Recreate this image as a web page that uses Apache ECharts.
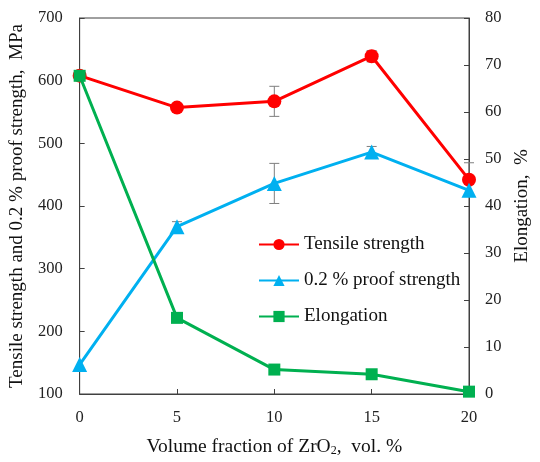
<!DOCTYPE html>
<html><head><meta charset="utf-8">
<script src="https://cdn.jsdelivr.net/npm/echarts@6/dist/echarts.min.js"></script>
<style>html,body{margin:0;padding:0;background:#fff;overflow:hidden}#c{width:540px;height:462px}</style>
</head><body><div id="c"></div>
<script>
const xValues = [0, 5, 10, 15, 20];
const tensile = [608, 557, 567, 639, 442];
const tensileErr = [0, 0, 24, 9, 27];
const proof = [147, 367, 436, 486, 425];
const proofErr = [0, 8, 32, 9, 0];
const elongation = [67.7, 16.2, 5.2, 4.2, 0.5];
const seriesNames = ['Tensile strength', '0.2 % proof strength', 'Elongation'];

const FONT = 'Liberation Serif';
const axisLine = {show: true, lineStyle: {color: '#404040', width: 1}};
const tick = {show: true, inside: true, length: 5, lineStyle: {color: '#404040'}};
const lbl = {fontFamily: FONT, fontSize: 16.5, color: '#222'};

function errSeries(vals, errs) {
  const data = xValues.map((x, i) => [x, vals[i] - errs[i], vals[i] + errs[i]]).filter((d, i) => errs[i] > 0);
  return {
    type: 'custom', yAxisIndex: 0, z: 1, silent: true,
    data: data,
    renderItem: function (params, api) {
      const lo = api.coord([api.value(0), api.value(1)]);
      const hi = api.coord([api.value(0), api.value(2)]);
      const w = 5;
      const st = {stroke: '#7f7f7f', lineWidth: 1};
      return {type: 'group', children: [
        {type: 'line', shape: {x1: lo[0], y1: lo[1], x2: hi[0], y2: hi[1]}, style: st},
        {type: 'line', shape: {x1: lo[0] - w, y1: lo[1], x2: lo[0] + w, y2: lo[1]}, style: st},
        {type: 'line', shape: {x1: hi[0] - w, y1: hi[1], x2: hi[0] + w, y2: hi[1]}, style: st}
      ]};
    }
  };
}

const el = document.getElementById('c');
const chart = echarts.init(el, null, {renderer: 'canvas'});
chart.setOption({
  animation: false,
  backgroundColor: '#fff',
  grid: {left: 79, right: 62, top: 18, bottom: 60, show: true, borderColor: '#404040', borderWidth: 1},
  legend: {
    orient: 'vertical', left: 253, top: 230, itemWidth: 40, itemHeight: 14, itemGap: 17,
    textStyle: {fontFamily: FONT, fontSize: 19, color: '#111'},
    data: seriesNames
  },
  xAxis: {
    type: 'value', min: 0, max: 20, interval: 5,
    axisLine: axisLine, axisTick: tick, splitLine: {show: false},
    axisLabel: Object.assign({margin: 15}, lbl),
    name: 'Volume fraction of ZrO{sub|2},  vol. %', nameLocation: 'middle', nameGap: 42,
    nameTextStyle: {fontFamily: FONT, fontSize: 19.5, color: '#111',
      rich: {sub: {fontFamily: FONT, fontSize: 12, verticalAlign: 'bottom', padding: [9, 0, 0, 0]}}}
  },
  yAxis: [{
    type: 'value', min: 100, max: 700, interval: 100,
    axisLine: axisLine, axisTick: tick, splitLine: {show: false},
    axisLabel: Object.assign({margin: 17}, lbl),
    name: 'Tensile strength and 0.2 % proof strength,  MPa', nameLocation: 'middle', nameGap: 50, nameRotate: 90,
    nameTextStyle: {fontFamily: FONT, fontSize: 19, color: '#111'}
  }, {
    type: 'value', min: 0, max: 80, interval: 10, position: 'right',
    axisLine: axisLine, axisTick: tick, splitLine: {show: false},
    axisLabel: Object.assign({margin: 16}, lbl),
    name: 'Elongation,  %', nameLocation: 'middle', nameGap: 44, nameRotate: 90,
    nameTextStyle: {fontFamily: FONT, fontSize: 19, color: '#111'}
  }],
  series: [
    errSeries(tensile, tensileErr),
    errSeries(proof, proofErr),
    {name: seriesNames[0], type: 'line', yAxisIndex: 0, z: 3, data: xValues.map((x, i) => [x, tensile[i]]),
      symbol: 'circle', symbolSize: 14, lineStyle: {color: '#FF0000', width: 3}, itemStyle: {color: '#FF0000'}},
    {name: seriesNames[1], type: 'line', yAxisIndex: 0, z: 3, data: xValues.map((x, i) => [x, proof[i]]),
      symbol: 'triangle', symbolSize: 15, lineStyle: {color: '#00B0F0', width: 3}, itemStyle: {color: '#00B0F0'}},
    {name: seriesNames[2], type: 'line', yAxisIndex: 1, z: 4, data: xValues.map((x, i) => [x, elongation[i]]),
      symbol: 'rect', symbolSize: 12, lineStyle: {color: '#00B050', width: 3}, itemStyle: {color: '#00B050'}}
  ]
});
</script></body></html>
